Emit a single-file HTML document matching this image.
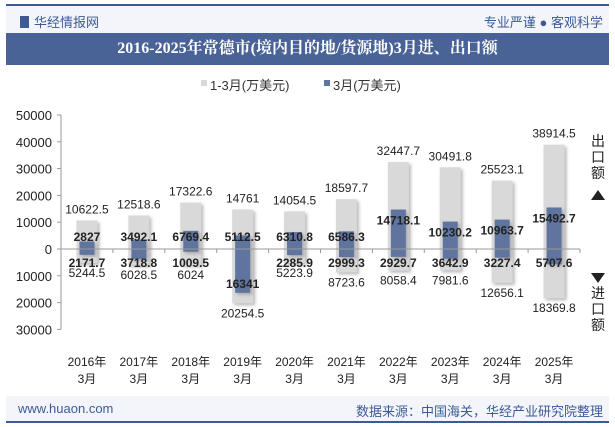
<!DOCTYPE html>
<html><head><meta charset="utf-8"><style>
body{margin:0;width:615px;height:427px;overflow:hidden;background:#fff;font-family:"Liberation Sans","Noto Sans CJK SC",sans-serif;position:relative}
.abs{position:absolute}
</style></head><body>
<div class="abs" style="left:6px;top:4px;width:603px;height:2px;background:#3d5a96"></div>
<div class="abs" style="left:6px;top:6px;width:603px;height:27px;background:#f3f5fa"></div>
<div class="abs" style="left:20px;top:12px;font-size:13px;color:#3d5a96"><span style="display:inline-block;width:9px;height:12px;background:#3d5a96;vertical-align:-1px;margin-right:5px"></span>华经情报网</div>
<div class="abs" style="right:12px;top:12px;font-size:13px;color:#3d5a96">专业严谨 ● 客观科学</div>
<div class="abs" style="left:6px;top:33px;width:603px;height:32px;background:#4a6396;color:#fff;font-size:16px;font-weight:bold;text-align:center;line-height:32px;font-family:'Liberation Serif','Noto Serif CJK SC',serif">2016-2025年常德市(境内目的地/货源地)3月进、出口额</div>
<div class="abs" style="left:6px;top:396px;width:603px;height:25px;background:#f3f5fa"></div>
<div class="abs" style="left:6px;top:421px;width:603px;height:2px;background:#3d5a96"></div>
<div class="abs" style="left:18px;top:401px;font-size:13px;color:#3d5a96">www.huaon.com</div>
<div class="abs" style="right:12px;top:401px;font-size:13px;color:#3d5a96">数据来源：中国海关，华经产业研究院整理</div>
<svg class="abs" style="left:0;top:0" width="615" height="427" id="chart"></svg>
<script>
const categories=["2016年|3月","2017年|3月","2018年|3月","2019年|3月","2020年|3月","2021年|3月","2022年|3月","2023年|3月","2024年|3月","2025年|3月"];
const exportYTD=[10622.5,12518.6,17322.6,14761,14054.5,18597.7,32447.7,30491.8,25523.1,38914.5];
const exportMar=[2827,3492.1,6769.4,5112.5,6310.8,6586.3,14718.1,10230.2,10963.7,15492.7];
const importYTD=[5244.5,6028.5,6024,20254.5,5223.9,8723.6,8058.4,7981.6,12656.1,18369.8];
const importMar=[2171.7,3718.8,1009.5,16341,2285.9,2999.3,2929.7,3642.9,3227.4,5707.7];
const importMarLabels=["2171.7","3718.8","1009.5","16341","2285.9","2999.3","2929.7","3642.9","3227.4","5707.6"];
const yTicks=[50000,40000,30000,20000,10000,0,-10000,-20000,-30000];
const svg=document.getElementById('chart');const NS='http://www.w3.org/2000/svg';
const x0=61,x1=580,y0=249,k=26.8/10000;
const yS=v=>y0-v*k;const step=(x1-x0)/categories.length;const xC=i=>x0+step*(i+0.5);
function mk(t,a,p){const e=document.createElementNS(NS,t);for(const q in a)e.setAttribute(q,a[q]);(p||svg).appendChild(e);return e;}
const defs=mk('defs',{});const f=mk('filter',{id:'sh',x:'-30%',y:'-10%',width:'160%',height:'130%'},defs);
mk('feDropShadow',{dx:'2',dy:'2',stdDeviation:'1.5','flood-color':'#888','flood-opacity':'0.6'},f);
// legend
let e=mk('rect',{x:201,y:80,width:6,height:6,fill:'#d9d9d9'});
e=mk('text',{x:210,y:90,'font-size':13,fill:'#333'});e.textContent='1-3月(万美元)';
e=mk('rect',{x:324,y:80,width:6,height:6,fill:'#5f74a0'});
e=mk('text',{x:333,y:90,'font-size':13,fill:'#333'});e.textContent='3月(万美元)';
// y axis
e=mk('line',{x1:x0,y1:yS(50000),x2:x0,y2:yS(-30000),stroke:'#999'});
yTicks.forEach(v=>{const y=yS(v);mk('line',{x1:x0-4,y1:y,x2:x0,y2:y,stroke:'#999'});
const t=mk('text',{x:52,y:y+5,'font-size':13,fill:'#222','text-anchor':'end'});t.textContent=Math.abs(v);
});
categories.forEach((c,i)=>{const cx=xC(i);
let r=mk('rect',{x:cx-10.5,y:yS(exportYTD[i]),width:21,height:(exportYTD[i]+importYTD[i])*k,fill:'#d9d9d9',filter:'url(#sh)'});

r=mk('rect',{x:cx-7.5,y:yS(exportMar[i]),width:15,height:(exportMar[i]+importMar[i])*k,fill:'#5f74a0',filter:'url(#sh)'});

let t=mk('text',{x:cx,y:yS(exportYTD[i])-7,'font-size':12,fill:'#222','text-anchor':'middle'});t.textContent=exportYTD[i];

t=mk('text',{x:cx,y:Math.min(yS(exportMar[i])+15,y0-8),'font-size':12,'font-weight':'bold',fill:'#222','text-anchor':'middle'});t.textContent=exportMar[i];

const iy=importMar[i]>10000?yS(-importMar[i])-5:y0+18;
t=mk('text',{x:cx,y:iy,'font-size':12,'font-weight':'bold',fill:'#222','text-anchor':'middle'});t.textContent=importMarLabels[i];

t=mk('text',{x:cx,y:yS(-importYTD[i])+14,'font-size':12,fill:'#222','text-anchor':'middle'});t.textContent=importYTD[i];

const p=c.split('|');
t=mk('text',{x:cx,y:366,'font-size':12,fill:'#222','text-anchor':'middle'});t.textContent=p[0];

t=mk('text',{x:cx,y:383,'font-size':12,fill:'#222','text-anchor':'middle'});t.textContent=p[1];

mk('line',{x1:x0+step*i,y1:y0,x2:x0+step*i,y2:y0+4,stroke:'#999'});
});
e=mk('line',{x1:x0,y1:y0,x2:x1,y2:y0,stroke:'#999'});
mk('line',{x1:x1,y1:y0,x2:x1,y2:y0+4,stroke:'#999'});
['出','口','额'].forEach((s,j)=>{const t=mk('text',{x:598,y:146+j*16,'font-size':14,fill:'#222','text-anchor':'middle'});t.textContent=s;});
mk('path',{d:'M591,200 L605,200 L598,190 Z',fill:'#222'});
mk('path',{d:'M591,273 L605,273 L598,283 Z',fill:'#222'});
['进','口','额'].forEach((s,j)=>{const t=mk('text',{x:598,y:298+j*16,'font-size':14,fill:'#222','text-anchor':'middle'});t.textContent=s;});
</script>
</body></html>
